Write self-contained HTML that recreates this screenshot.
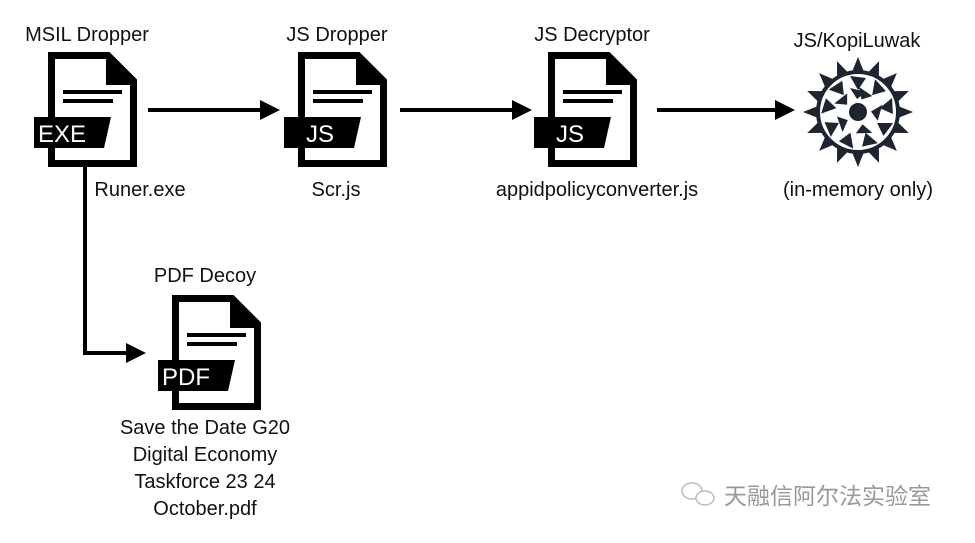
<!DOCTYPE html>
<html><head><meta charset="utf-8"><style>
body{margin:0;background:#fff;width:975px;height:538px;overflow:hidden}
svg text{font-family:"Liberation Sans","Noto Sans CJK SC",sans-serif;fill:#111}
</style></head><body>
<svg width="975" height="538" viewBox="0 0 975 538" xmlns="http://www.w3.org/2000/svg">
<defs>
<g id="doc">
<path d="M3.5 3.5 H60 L85.5 29 V111.5 H3.5 Z" fill="#fff" stroke="#000" stroke-width="7" stroke-linejoin="miter"/>
<path d="M58 0 L89 31 L89 33 L58 33 Z" fill="#000"/>
<rect x="15" y="38" width="59" height="4" fill="#000"/>
<rect x="15" y="47" width="50" height="4" fill="#000"/>
<path d="M-14 65 H63 L56 96 H-14 Z" fill="#000"/>
</g>
</defs>
<use href="#doc" x="48" y="52"/>
<use href="#doc" x="298" y="52"/>
<use href="#doc" x="548" y="52"/>
<use href="#doc" x="172" y="295"/>
<g font-size="24">
<text x="38" y="142" style="fill:#fff">EXE</text>
<text x="306" y="142" style="fill:#fff">JS</text>
<text x="556" y="142" style="fill:#fff">JS</text>
<text x="162" y="385" style="fill:#fff">PDF</text>
</g>
<g stroke="#000" stroke-width="4" fill="none">
<line x1="148" y1="110" x2="262" y2="110"/>
<line x1="400" y1="110" x2="514" y2="110"/>
<line x1="657" y1="110" x2="777" y2="110"/>
<polyline points="85,167 85,353 128,353"/>
</g>
<g fill="#000">
<path d="M260 100 L280 110 L260 120 Z"/>
<path d="M512 100 L532 110 L512 120 Z"/>
<path d="M775 100 L795 110 L775 120 Z"/>
<path d="M126 343 L146 353 L126 363 Z"/>
</g>
<!-- virus -->
<g transform="translate(858,112)" fill="#1e2530">
<g id="spk"><path d="M-6 -40 L0 -55 L6 -40 Z"/></g>
<use href="#spk" transform="rotate(22.5)"/><use href="#spk" transform="rotate(45)"/><use href="#spk" transform="rotate(67.5)"/>
<use href="#spk" transform="rotate(90)"/><use href="#spk" transform="rotate(112.5)"/><use href="#spk" transform="rotate(135)"/>
<use href="#spk" transform="rotate(157.5)"/><use href="#spk" transform="rotate(180)"/><use href="#spk" transform="rotate(202.5)"/>
<use href="#spk" transform="rotate(225)"/><use href="#spk" transform="rotate(247.5)"/><use href="#spk" transform="rotate(270)"/>
<use href="#spk" transform="rotate(292.5)"/><use href="#spk" transform="rotate(315)"/><use href="#spk" transform="rotate(337.5)"/>
<circle r="40" fill="none" stroke="#1e2530" stroke-width="4"/>
<circle r="9"/>
<g id="tri"><path d="M-8 -36 L8 -34 L0 -22 Z"/></g>
<use href="#tri" transform="rotate(40)"/><use href="#tri" transform="rotate(80)"/><use href="#tri" transform="rotate(120)"/>
<use href="#tri" transform="rotate(160)"/><use href="#tri" transform="rotate(200)"/><use href="#tri" transform="rotate(240)"/>
<use href="#tri" transform="rotate(280)"/><use href="#tri" transform="rotate(320)"/>
<g id="tri2"><path d="M-8 -24 L8 -20 L-1 -13 Z"/></g>
<use href="#tri2" transform="rotate(20)"/><use href="#tri2" transform="rotate(92)"/><use href="#tri2" transform="rotate(164)"/><use href="#tri2" transform="rotate(236)"/><use href="#tri2" transform="rotate(308)"/>
</g>
<g font-size="20" text-anchor="middle">
<text x="87" y="41">MSIL Dropper</text>
<text x="337" y="41">JS Dropper</text>
<text x="592" y="41">JS Decryptor</text>
<text x="857" y="47">JS/KopiLuwak</text>
<text x="140" y="196">Runer.exe</text>
<text x="336" y="196">Scr.js</text>
<text x="597" y="196">appidpolicyconverter.js</text>
<text x="858" y="196">(in-memory only)</text>
<text x="205" y="282">PDF Decoy</text>
<text x="205" y="434">Save the Date G20</text>
<text x="205" y="461">Digital Economy</text>
<text x="205" y="488">Taskforce 23 24</text>
<text x="205" y="515">October.pdf</text>
</g>
<g fill="none" stroke="#bbb" stroke-width="1.5">
<ellipse cx="692" cy="491" rx="10" ry="8"/>
<ellipse cx="705" cy="498" rx="9" ry="7" fill="#fff"/>
</g>
<text x="724" y="504" font-size="23" style="fill:#999;font-family:'Noto Sans CJK SC',sans-serif">天融信阿尔法实验室</text>
</svg>
</body></html>
